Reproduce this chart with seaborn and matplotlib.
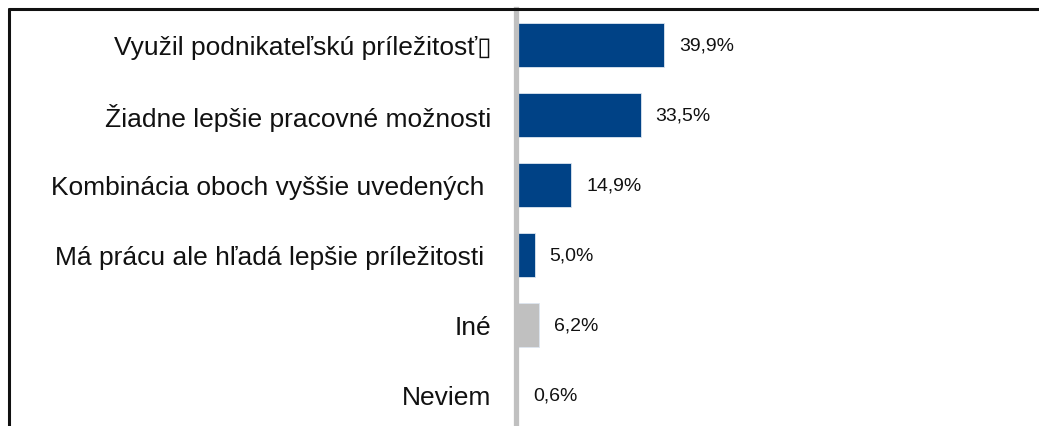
import numpy as np
import pandas as pd
import seaborn as sns
import matplotlib.pyplot as plt
from matplotlib.lines import Line2D

# data
categories = ["Využil podnikateľskú príležitosť\u25af",
              "Žiadne lepšie pracovné možnosti",
              "Kombinácia oboch vyššie uvedených ",
              "Má prácu ale hľadá lepšie príležitosti ",
              "Iné",
              "Neviem"]
values = [39.9, 33.5, 14.9, 5.0, 6.2, 0.6]
value_labels = ["39,9%", "33,5%", "14,9%", "5,0%", "6,2%", "0,6%"]
bar_colors = ["#004286", "#004286", "#004286", "#004286", "#C0C0C0", "#C0C0C0"]

df = pd.DataFrame({"kat": categories, "val": values})

sns.set_style("white")
plt.rcParams["font.family"] = ["Liberation Sans", "DejaVu Sans"]

W, H = 1039, 427
fig = plt.figure(figsize=(W / 100, H / 100), dpi=100)
ax = fig.add_axes([516 / W, 0, (W - 516) / W, (H - 10) / H])

sns.barplot(data=df, x="val", y="kat", hue="kat", palette=bar_colors,
            saturation=1, legend=False, width=0.63, orient="h", ax=ax,
            edgecolor="#dde6f0", linewidth=0.6)

ax.set_xlim(0, (W - 516) / 3.72)
ax.set_ylim(5 + 31 / 70, -36 / 70)
ax.set_xlabel("")
ax.set_ylabel("")
ax.set_xticks([])

for s in ["top", "right", "bottom"]:
    ax.spines[s].set_visible(False)
ax.spines["left"].set_color("#C0C0C0")
ax.spines["left"].set_linewidth(3.8)
ax.spines["left"].set_zorder(5)

ax.tick_params(axis="y", length=0, pad=17.5, labelsize=19, labelcolor="#111111")

for i, (v, lab) in enumerate(zip(values, value_labels)):
    ax.annotate(lab, (v, i), xytext=(10.5, 0), textcoords="offset points",
                va="center", ha="left", fontsize=14, color="#111111")

# outer frame (top and left edges visible)
fig.add_artist(Line2D([9 / W, 1], [1 - 10 / H, 1 - 10 / H], color="#111111", lw=2.2))
fig.add_artist(Line2D([9 / W, 9 / W], [0, 1 - 10 / H], color="#111111", lw=2.2))

fig.savefig("out.png", dpi=100)
